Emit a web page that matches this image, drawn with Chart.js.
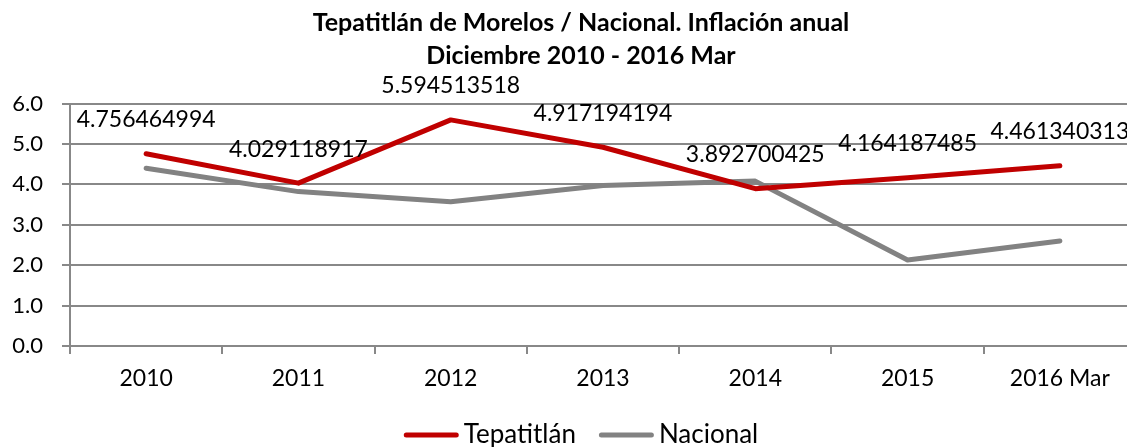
<!DOCTYPE html>
<html>
<head>
<meta charset="utf-8">
<script src="https://cdn.jsdelivr.net/npm/chart.js@4"></script>
<style>
  html, body { margin: 0; padding: 0; background: #fff; overflow: hidden; }
  #wrap { width: 1127px; height: 447px; overflow: hidden; }
</style>
</head>
<body>
<div id="wrap"><canvas id="inflationChart" width="1160" height="447"></canvas></div>
<script>
const categories = ['2010', '2011', '2012', '2013', '2014', '2015', '2016 Mar'];
const tepatitlan = [4.756464994, 4.029118917, 5.594513518, 4.917194194, 3.892700425, 4.164187485, 4.461340313];
const nacional = [4.40, 3.82, 3.57, 3.97, 4.08, 2.13, 2.60];
const titleLines = ['Tepatitlán de Morelos / Nacional. Inflación anual', 'Diciembre 2010 - 2016 Mar'];

const fontName = 'Lato';
// the source chart was a bit wider than the window, title and legend are centred on it
const centerX = 581;

// values written above the Tepatitlán points
const pointLabels = {
    id: 'pointLabels',
    afterDatasetsDraw(chart) {
        const ctx = chart.ctx;
        const meta = chart.getDatasetMeta(0);
        ctx.save();
        ctx.font = '23px ' + fontName;
        ctx.fillStyle = '#000';
        ctx.textAlign = 'center';
        ctx.textBaseline = 'middle';
        meta.data.forEach(function (pt, i) {
            ctx.fillText(String(tepatitlan[i]), pt.x, pt.y - 34);
        });
        ctx.restore();
    }
};

// two-line title and line legend
const titleAndLegend = {
    id: 'titleAndLegend',
    afterDraw(chart) {
        const ctx = chart.ctx;
        ctx.save();
        ctx.fillStyle = '#000';
        ctx.textAlign = 'center';
        ctx.textBaseline = 'middle';
        ctx.font = 'bold 25px ' + fontName;
        titleLines.forEach(function (t, i) {
            ctx.fillText(t, centerX, 22.5 + i * 33);
        });

        ctx.font = '26px ' + fontName;
        const lineLen = 55, textGap = 5, itemGap = 23;
        const items = chart.data.datasets.map(function (ds) {
            return { label: ds.label, color: ds.borderColor, w: ctx.measureText(ds.label).width };
        });
        let total = 0;
        items.forEach(function (it, i) {
            total += lineLen + textGap + it.w + (i ? itemGap : 0);
        });
        let x = centerX - total / 2;
        const y = 435;
        ctx.textAlign = 'left';
        ctx.lineCap = 'round';
        ctx.lineWidth = 5;
        items.forEach(function (it) {
            ctx.strokeStyle = it.color;
            ctx.beginPath();
            ctx.moveTo(x + 2.5, y);
            ctx.lineTo(x + lineLen - 2.5, y);
            ctx.stroke();
            ctx.fillText(it.label, x + lineLen + textGap, y);
            x += lineLen + textGap + it.w + itemGap;
        });
        ctx.restore();
    }
};

new Chart(document.getElementById('inflationChart'), {
    type: 'line',
    data: {
        labels: categories,
        datasets: [{
            label: 'Tepatitlán',
            data: tepatitlan,
            borderColor: '#c00000',
            backgroundColor: '#c00000',
            borderWidth: 5,
            pointRadius: 0,
            tension: 0,
            borderCapStyle: 'round',
            borderJoinStyle: 'round'
        }, {
            label: 'Nacional',
            data: nacional,
            borderColor: '#828282',
            backgroundColor: '#828282',
            borderWidth: 5,
            pointRadius: 0,
            tension: 0,
            borderCapStyle: 'round',
            borderJoinStyle: 'round'
        }]
    },
    options: {
        responsive: false,
        animation: false,
        layout: { padding: { left: 0, right: 24, top: 103.5, bottom: 0 } },
        plugins: {
            title: { display: false },
            legend: { display: false },
            tooltip: { enabled: false }
        },
        scales: {
            x: {
                offset: true,
                afterFit: function (scale) { scale.height = 101; },
                grid: { offset: true, drawOnChartArea: false, color: '#888', lineWidth: 2, tickLength: 8 },
                border: { color: '#888', width: 2 },
                ticks: { color: '#000', font: { family: fontName, size: 23 }, padding: 11 }
            },
            y: {
                min: 0,
                max: 6,
                afterFit: function (scale) { scale.width = 70; },
                grid: { color: '#888', lineWidth: 2, tickLength: 8 },
                border: { color: '#888', width: 2 },
                ticks: {
                    stepSize: 1,
                    color: '#000',
                    font: { family: fontName, size: 22 },
                    padding: 19,
                    callback: function (v) { return v.toFixed(1); }
                }
            }
        }
    },
    plugins: [pointLabels, titleAndLegend]
});
</script>
</body>
</html>
